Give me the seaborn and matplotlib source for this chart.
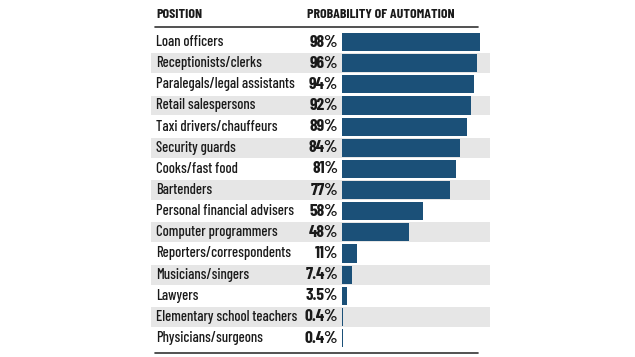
import numpy as np
import pandas as pd
import matplotlib
matplotlib.use('Agg')
import matplotlib.pyplot as plt
import matplotlib.transforms as mtransforms
from matplotlib import font_manager
import seaborn as sns

positions = ['Loan officers', 'Receptionists/clerks', 'Paralegals/legal assistants',
             'Retail salespersons', 'Taxi drivers/chauffeurs', 'Security guards',
             'Cooks/fast food', 'Bartenders', 'Personal financial advisers',
             'Computer programmers', 'Reporters/correspondents', 'Musicians/singers',
             'Lawyers', 'Elementary school teachers', 'Physicians/surgeons']
probability = [98, 96, 94, 92, 89, 84, 81, 77, 58, 48, 11, 7.4, 3.5, 0.4, 0.4]
prob_labels = ['98%', '96%', '94%', '92%', '89%', '84%', '81%', '77%', '58%',
               '48%', '11%', '7.4%', '3.5%', '0.4%', '0.4%']
headers = ['POSITION', 'PROBABILITY OF AUTOMATION']

BAR = '#1b5078'
BAND = '#e6e6e6'
INK = '#1a1a1a'

sns.set_style('white')
installed = {f.name for f in font_manager.fontManager.ttflist}
candidates = ['Barlow Condensed', 'Roboto Condensed', 'PT Sans Narrow', 'DejaVu Sans']
family = [f for f in candidates if f in installed][0]
plt.rcParams['font.family'] = [family, 'DejaVu Sans']

df = pd.DataFrame({'position': positions, 'probability': probability})

W, H = 635, 357
fig = plt.figure(figsize=(W / 100, H / 100), dpi=100)
fig.patch.set_facecolor('white')

# axes in pixel terms: bands span x 151..490, rows 31.5..348.6
x0, x1 = 151, 490
y0, y1 = 31.5, 348.6
ax = fig.add_axes([x0 / W, 1 - y1 / H, (x1 - x0) / W, (y1 - y0) / H])

sns.barplot(data=df, x='probability', y='position', orient='h', color=BAR,
            width=0.86, saturation=1, linewidth=0, ax=ax, zorder=2)

zero_px, px_per = 342, 1.405
ax.set_xlim((x0 - zero_px) / px_per, (x1 - zero_px) / px_per)
ax.set_ylim(len(positions) - 0.5, -0.5)

for i in range(len(positions)):
    if i % 2 == 1:
        ax.axhspan(i - 0.47, i + 0.47, color=BAND, zorder=0, lw=0)

ax.set_xlabel('')
ax.set_ylabel('')
ax.set_xticks([])
ax.set_yticks([])
for s in ax.spines.values():
    s.set_visible(False)
ax.patch.set_alpha(0)

tr = mtransforms.blended_transform_factory(fig.transFigure, ax.transData)
for i, (name, lab) in enumerate(zip(positions, prob_labels)):
    ax.text(156 / W, i, name, transform=tr, ha='left', va='center',
            fontsize=10.5, fontweight='medium', color=INK)
    ax.text(338 / W, i, lab, transform=tr, ha='right', va='center',
            fontsize=12.5, fontweight='bold', color=INK)

fig.text(156 / W, 1 - 15 / H, headers[0], ha='left', va='center',
         fontsize=10, fontweight='bold', color=INK)
fig.text(307 / W, 1 - 15 / H, headers[1], ha='left', va='center',
         fontsize=10, fontweight='bold', color=INK)

for ypx in (27, 353):
    fig.add_artist(plt.Line2D([155 / W, 478 / W], [1 - ypx / H, 1 - ypx / H],
                              color='#333333', lw=1.2))

fig.savefig('out.png', dpi=100)
